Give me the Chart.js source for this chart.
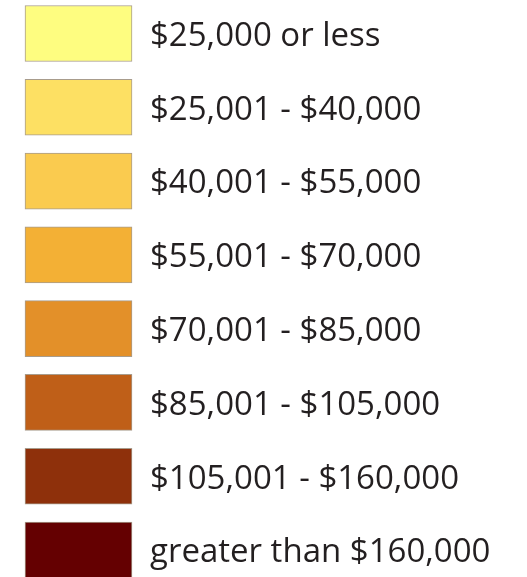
<!DOCTYPE html>
<html>
<head>
<meta charset="utf-8">
<style>
  html, body { margin: 0; padding: 0; background: #ffffff; }
  #wrap { width: 527px; height: 577px; }
</style>
<script src="https://cdn.jsdelivr.net/npm/chart.js@4.4.1/dist/chart.umd.min.js"></script>
</head>
<body>
<div id="wrap"><canvas id="c" width="527" height="577"></canvas></div>
<script>
const categories = [
  "$25,000 or less",
  "$25,001 - $40,000",
  "$40,001 - $55,000",
  "$55,001 - $70,000",
  "$70,001 - $85,000",
  "$85,001 - $105,000",
  "$105,001 - $160,000",
  "greater than $160,000"
];
const swatchValues = [1, 1, 1, 1, 1, 1, 1, 1];
const swatchColors = [
  "#FEFD80", "#FDE063", "#FACB4F", "#F3B035",
  "#E39029", "#BF5F18", "#8E300B", "#640001"
];

new Chart(document.getElementById('c'), {
  type: 'bar',
  data: {
    labels: categories,
    datasets: [{
      data: swatchValues,
      backgroundColor: swatchColors,
      borderColor: "#a89c8c",
      borderWidth: 1,
      borderSkipped: false,
      barThickness: 56,
      clip: false
    }]
  },
  options: {
    indexAxis: 'y',
    responsive: false,
    animation: false,
    layout: { padding: { left: 25, top: 33.5, bottom: 27, right: 0 } },
    plugins: { legend: { display: false }, tooltip: { enabled: false } },
    scales: {
      x: { display: false, min: 0, max: 1 },
      y: {
        position: 'right',
        offset: false,
        grid: { display: false, drawTicks: false },
        border: { display: false },
        afterFit: (s) => { s.width = 527 - 132; s.paddingTop = 0; s.paddingBottom = 0; },
        ticks: {
          autoSkip: false,
          padding: 18,
          labelOffset: 3,
          color: "#231f20",
          font: { family: "'Open Sans'", size: 33 },
          crossAlign: 'near'
        }
      }
    }
  }
});
</script>
</body>
</html>
